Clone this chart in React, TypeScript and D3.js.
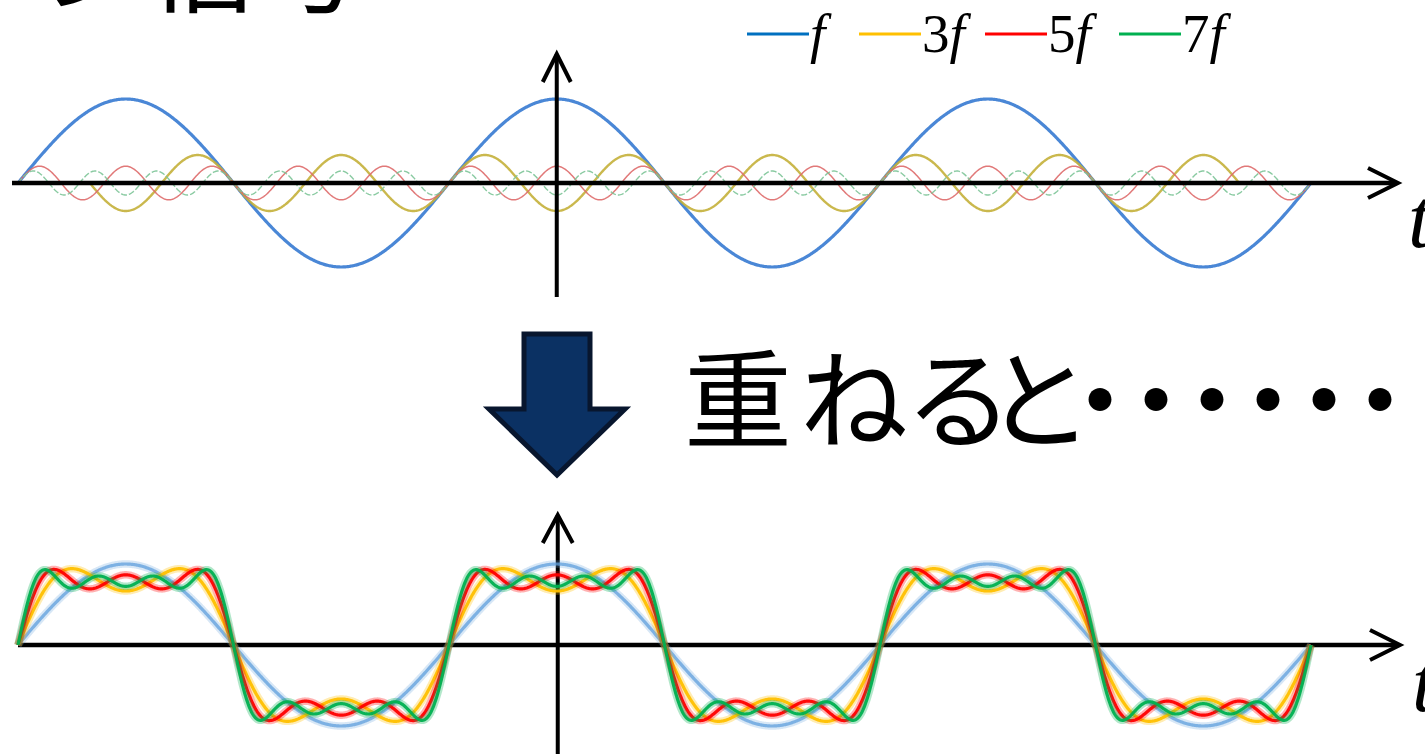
import React from "react";
import * as d3 from "d3";

// Harmonics of a square wave (cosine series)
const harmonicOrders = [1, 3, 5, 7];
const harmonicCoefs = [1, -1 / 3, 1 / 5, -1 / 7];
const harmonicLabels = ["", "3", "5", "7"];
// span (in periods of f) over which each single harmonic is drawn in the upper panel
const harmonicStart = [-1.25, -13 / 12, -1.25, -1.25];
const harmonicEnd = [1.75, 19 / 12, 1.75, 1.75];

const legendColors = ["#0070C0", "#FFC000", "#FF0000", "#00B050"];
const upperColors = ["#4a87d6", "#c4b03a", "#de6a6a", "#7cc497"];
const lowerColors = ["#5f9fdc", "#FFC000", "#FF0000", "#00B050"];

const captionChars = ["重", "ね", "る", "と"];
const captionX = [684, 800, 905, 985];

const tDomain: [number, number] = [-1.25, 1.75];

const W = 1425;
const H = 754;

function sample(t0: number, t1: number, fn: (t: number) => number) {
  const pts: [number, number][] = [];
  const n = Math.ceil((t1 - t0) / 0.002);
  for (let i = 0; i <= n; i++) {
    const t = t0 + ((t1 - t0) * i) / n;
    pts.push([t, fn(t)]);
  }
  return pts;
}

export default function App() {
  const x = d3.scaleLinear().domain(tDomain).range([18, 1311]);
  const yTop = d3.scaleLinear().domain([-1, 1]).range([267, 99]);
  const yBot = d3.scaleLinear().domain([-1, 1]).range([726, 564]);

  const lineTop = d3
    .line<[number, number]>()
    .x((d) => x(d[0]))
    .y((d) => yTop(d[1]));
  const lineBot = d3
    .line<[number, number]>()
    .x((d) => x(d[0]))
    .y((d) => yBot(d[1]));

  const single = harmonicOrders.map((n, i) =>
    sample(harmonicStart[i], harmonicEnd[i], (t) => harmonicCoefs[i] * Math.cos(2 * Math.PI * n * t))
  );
  const partial = harmonicOrders.map((_, i) =>
    sample(tDomain[0], tDomain[1], (t) => {
      let s = 0;
      for (let k = 0; k <= i; k++) s += harmonicCoefs[k] * Math.cos(2 * Math.PI * harmonicOrders[k] * t);
      return s;
    })
  );

  const upperWidths = [3.2, 2.4, 1.5, 1.4];
  const axisTop = yTop(0);
  const axisBot = yBot(0);
  const x0 = x(0);

  const legendX = [747, 859, 985, 1119];

  return (
    <svg
      width={W}
      height={H}
      viewBox={`0 0 ${W} ${H}`}
      style={{ position: "absolute", left: 0, top: 0, background: "#fff" }}
    >
      {/* cut-off heading */}
      <text
        x={364}
        y={4}
        textAnchor="end"
        fontFamily="'Noto Sans CJK JP', sans-serif"
        fontSize={108}
        fill="#000"
      >
        コサイン信号
      </text>

      {/* legend */}
      {legendX.map((lx, i) => (
        <g key={i}>
          <line x1={lx} x2={lx + 62} y1={34} y2={34} stroke={legendColors[i]} strokeWidth={3} />
          <text x={lx + 63} y={52} fontFamily="'Liberation Serif', 'Times New Roman', serif" fontSize={55} fill="#000">
            {harmonicLabels[i]}
            <tspan fontStyle="italic">f</tspan>
          </text>
        </g>
      ))}

      {/* upper panel: individual harmonics */}
      {single.map((pts, i) => (
        <path
          key={i}
          d={lineTop(pts) || ""}
          fill="none"
          stroke={upperColors[i]}
          strokeWidth={upperWidths[i]}
          strokeDasharray={i === 3 ? "6 2" : undefined}
          opacity={i === 0 ? 1 : 0.9}
        />
      ))}
      {/* upper axes */}
      <line x1={12} x2={1396} y1={axisTop} y2={axisTop} stroke="#000" strokeWidth={4.5} />
      <polyline
        points={`1368,${axisTop - 15} 1398,${axisTop} 1368,${axisTop + 15}`}
        fill="none"
        stroke="#000"
        strokeWidth={4}
      />
      <line x1={x0} x2={x0} y1={54} y2={297} stroke="#000" strokeWidth={4} />
      <polyline points={`${x0 - 14},82 ${x0},54 ${x0 + 14},82`} fill="none" stroke="#000" strokeWidth={4} />
      <text
        x={1408}
        y={247}
        fontFamily="'Liberation Serif', 'Times New Roman', serif"
        fontStyle="italic"
        fontSize={84}
        fill="#000"
      >
        t
      </text>

      {/* arrow and caption */}
      <polygon
        points="524,334 590,334 590,409 625,409 557,475 489,409 524,409"
        fill="#0b3163"
        stroke="#08162e"
        strokeWidth={5}
        strokeLinejoin="miter"
      />
      <text y={440} fontFamily="'Noto Sans CJK JP', sans-serif" fontSize={108} fill="#000">
        {captionChars.map((c, i) => (
          <tspan key={i} x={captionX[i]}>
            {c}
          </tspan>
        ))}
        <tspan x={1046} letterSpacing={-52}>
          ・・・・・・
        </tspan>
      </text>

      {/* lower axes */}
      <line x1={18} x2={1398} y1={axisBot} y2={axisBot} stroke="#000" strokeWidth={4.5} />
      <polyline
        points={`1370,${axisBot - 15} 1400,${axisBot} 1370,${axisBot + 15}`}
        fill="none"
        stroke="#000"
        strokeWidth={4}
      />
      <line x1={x0 + 1} x2={x0 + 1} y1={515} y2={754} stroke="#000" strokeWidth={4} />
      <polyline
        points={`${x0 - 14},543 ${x0 + 1},515 ${x0 + 16},543`}
        fill="none"
        stroke="#000"
        strokeWidth={4}
      />
      <text
        x={1412}
        y={711}
        fontFamily="'Liberation Serif', 'Times New Roman', serif"
        fontStyle="italic"
        fontSize={84}
        fill="#000"
      >
        t
      </text>

      {/* lower panel: partial sums */}
      {partial.map((pts, i) => (
        <g key={i}>
          <path
            d={lineBot(pts) || ""}
            fill="none"
            stroke={lowerColors[i]}
            strokeWidth={7.5}
            opacity={i === 0 ? 0.25 : 0.3}
          />
          <path
            d={lineBot(pts) || ""}
            fill="none"
            stroke={lowerColors[i]}
            strokeWidth={3.2}
            opacity={i === 0 ? 0.75 : 0.95}
          />
        </g>
      ))}
    </svg>
  );
}
